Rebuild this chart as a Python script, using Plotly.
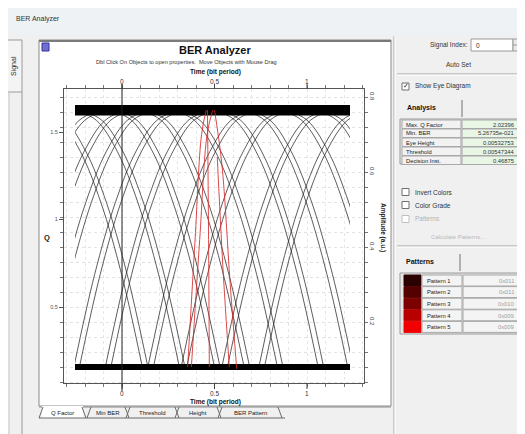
import plotly.graph_objects as go

OFF = 8                      # the page body margin
W, H = 525 - OFF, 434 - OFF  # figure size

# ---------------- data ----------------
time_ticks = [0, 0.5, 1]
time_tick_labels = ["0", "0.5", "1"]
amp_ticks = [0.2, 0.4, 0.6, 0.8]
amp_tick_labels = ["0.2", "0.4", "0.6", "0.8"]
q_ticks = [0.5, 1.0, 1.5]
q_tick_labels = ["0.5", "1", "1.5"]

level_low = 0.08
level_high = 0.765

band_t = [-0.27, 1.25]
top_band_levels = [0.754, 0.760, 0.765, 0.770, 0.775]
bottom_band_levels = [0.075, 0.080, 0.085]

# times at which a rising edge reaches the top level / a falling edge leaves it
rise_top_t = [-0.12, -0.09, 0.02, 0.05, 0.14, 0.17, 0.30, 0.33, 0.47, 0.50,
              0.70, 0.73, 0.88, 0.91, 1.10, 1.13, 1.30, 1.33]
fall_top_t = [-0.45, -0.42, -0.25, -0.22, -0.06, -0.03, 0.10, 0.13, 0.28, 0.31,
              0.50, 0.53, 0.66, 0.69, 0.86, 0.89, 1.05, 1.08]
edge_half_width = 0.56
half_profile_u = [0.0, 0.2, 0.4, 0.6, 0.8, 1.0]
half_profile_level = [1.0, 0.96, 0.84, 0.64, 0.36, 0.0]

# red curves around the decision instant
red1_t = [0.355, 0.395, 0.43, 0.455]
red1_a = [0.08, 0.42, 0.70, 0.765]
red2_t = [0.375, 0.42, 0.46, 0.49]
red2_a = [0.08, 0.42, 0.70, 0.765]
red3_t = [0.462, 0.468, 0.472]
red3_a = [0.765, 0.42, 0.08]
red4_t = [0.50, 0.54, 0.585, 0.62]
red4_a = [0.765, 0.62, 0.30, 0.075]
red5_t = [0.515, 0.545, 0.58]
red5_a = [0.64, 0.35, 0.08]

analysis_labels = ["Max. Q Factor", "Min. BER", "Eye Height", "Threshold", "Decision Inst."]
analysis_values = ["2.02396", "5.26735e-021", "0.00532753", "0.00547344", "0.46875"]
pattern_labels = ["Pattern 1", "Pattern 2", "Pattern 3", "Pattern 4", "Pattern 5"]
pattern_values = ["0x011", "0x011", "0x010", "0x009", "0x009"]
pattern_colors = ["#2a0000", "#520000", "#7c0000", "#b80000", "#f00000"]
bottom_tabs = ["Q Factor", "Min BER", "Threshold", "Height", "BER Pattern"]

# ---------------- geometry helpers (screen pixels) ----------------
T0_PX, PX_PER_BIT = 122, 185.0
A_REF_PX, A_REF, PX_PER_AMP = 97, 0.8, 375.0
FR_L, FR_R, FR_T, FR_B = 64, 364, 89, 383
DA_L, DA_R = 75, 350


def t_of(px):
    return (px - T0_PX) / PX_PER_BIT


def a_of(py):
    return A_REF - (py - A_REF_PX) / PX_PER_AMP


def fx(x):
    return (x - OFF) / W


def fy(y):
    return 1 - (y - OFF) / H


shapes = []
annotations = []


def rect(x0, y0, x1, y1, fill=None, line="#a0a0a0", lw=1, layer="above"):
    shapes.append(dict(type="rect", xref="paper", yref="paper",
                       x0=fx(x0), x1=fx(x1), y0=fy(y1), y1=fy(y0),
                       fillcolor=fill if fill else "rgba(0,0,0,0)",
                       line=dict(color=line, width=lw), layer=layer))


def line(x0, y0, x1, y1, color="#808080", lw=1, layer="above"):
    shapes.append(dict(type="line", xref="paper", yref="paper",
                       x0=fx(x0), x1=fx(x1), y0=fy(y0), y1=fy(y1),
                       line=dict(color=color, width=lw), layer=layer))


def hline(x0, x1, y, color="#a0a0a0", lw=1):
    line(x0, y, x1, y, color, lw)


def vline(x, y0, y1, color="#a0a0a0", lw=1):
    line(x, y0, x, y1, color, lw)


def text(x, y, s, size=7, color="#222", anchor="left", bold=False, angle=0,
         family="Liberation Sans"):
    annotations.append(dict(xref="paper", yref="paper", x=fx(x), y=fy(y),
                            text=("<b>%s</b>" % s) if bold else s,
                            showarrow=False, xanchor=anchor, yanchor="middle",
                            textangle=angle,
                            font=dict(size=size, color=color, family=family)))


fig = go.Figure()

# frame subplot (x / y) is drawn first; the eye traces live on x2 / y2
fig.add_trace(go.Scatter(x=[None], y=[None], xaxis="x", yaxis="y", showlegend=False))
fig.add_trace(go.Scatter(x=[None], y=[None], xaxis="x", yaxis="y3", showlegend=False))
fig.add_trace(go.Scatter(x=[None], y=[None], xaxis="x", yaxis="y4", showlegend=False))

# ---------------- eye diagram traces ----------------
span = level_high - level_low
edge_style = dict(color="rgba(30,30,30,0.72)", width=1, shape="spline")
for tt in rise_top_t:
    fig.add_trace(go.Scatter(
        x=[tt - u * edge_half_width for u in half_profile_u],
        y=[level_low + lv * span for lv in half_profile_level],
        mode="lines", line=edge_style,
        hoverinfo="skip", showlegend=False, xaxis="x2", yaxis="y2"))
for tt in fall_top_t:
    fig.add_trace(go.Scatter(
        x=[tt + u * edge_half_width for u in half_profile_u],
        y=[level_low + lv * span for lv in half_profile_level],
        mode="lines", line=edge_style,
        hoverinfo="skip", showlegend=False, xaxis="x2", yaxis="y2"))
for lv in top_band_levels:
    fig.add_trace(go.Scatter(x=band_t, y=[lv, lv], mode="lines",
                             line=dict(color="black", width=2.6),
                             hoverinfo="skip", showlegend=False, xaxis="x2", yaxis="y2"))
for lv in bottom_band_levels:
    fig.add_trace(go.Scatter(x=band_t, y=[lv, lv], mode="lines",
                             line=dict(color="black", width=2.4),
                             hoverinfo="skip", showlegend=False, xaxis="x2", yaxis="y2"))
for rt, ra in [(red1_t, red1_a), (red2_t, red2_a), (red3_t, red3_a),
               (red4_t, red4_a), (red5_t, red5_a)]:
    fig.add_trace(go.Scatter(x=rt, y=ra, mode="lines",
                             line=dict(color="rgba(215,40,40,0.85)", width=1, shape="spline"),
                             hoverinfo="skip", showlegend=False, xaxis="x2", yaxis="y2"))

# ---------------- window chrome ----------------
rect(8, 8, 525, 34, fill="#eef2f5", line="#eef2f5", lw=0, layer="below")
text(14, 19, "BER Analyzer", size=7, color="#333")
rect(520, 22, 526, 34, fill="#d03030", line="#d03030", lw=0)
# left side tab
rect(6, 40, 22, 92, fill="#f4f4f4", line="#9a9a9a", layer="below")
text(14, 66, "Signal", size=7, color="#333", anchor="center", angle=-90)
vline(22, 92, 434, color="#9a9a9a")
vline(9, 92, 434, color="#c8c8c8")

# plot panel
rect(39, 40, 391, 406, fill="#ffffff", line="#8a8a8a", layer="below")
hline(39, 391, 41, color="#7a7a7a", lw=2)
rect(42, 43, 49, 51, fill="#7070d0", line="#3030a0")
text(215, 50, "BER Analyzer", size=11, color="#111", anchor="center", bold=True)
text(186, 62, "Dbl Click On Objects to open properties.  Move Objects with Mouse Drag",
     size=5.6, color="#333", anchor="center")
text(215, 72, "Time (bit period)", size=6.5, color="#111", anchor="center", bold=True)
text(215, 402, "Time (bit period)", size=6.5, color="#111", anchor="center", bold=True)
for tv, tl in zip(time_ticks, time_tick_labels):
    px = T0_PX + tv * PX_PER_BIT
    text(px, 81, tl, size=6.5, color="#333", anchor="center")
    text(px, 393, tl, size=6.5, color="#333", anchor="center")
text(47, 237, "Q", size=7.5, color="#222", anchor="center", bold=True)
text(383, 227, "Amplitude (a.u.)", size=6.5, color="#222", anchor="center", bold=True, angle=90)

# bottom tabs
hline(39, 391, 407, color="#8a8a8a")
tab_x = [(42, 83), (90, 126), (129, 176), (178, 218), (221, 279)]
for i, ((x0, x1), lab) in enumerate(zip(tab_x, bottom_tabs)):
    if i == 0:
        rect(x0, 406, x1, 418, fill="#ffffff", line="#ffffff", lw=0)
    line(x0 - 3, 418, x0 + 1, 407, color="#6a6a6a")
    line(x1 - 1, 407, x1 + 3, 418, color="#6a6a6a")
    text((x0 + x1) / 2, 413, lab, size=6, color="#222", anchor="center")
hline(39, 285, 418, color="#6a6a6a")

# right panel
vline(394, 36, 434, color="#a8a8a8")
vline(395, 36, 434, color="#ffffff")
text(470, 45, "Signal Index:", size=6.5, color="#333", anchor="right")
rect(471, 39, 513, 51, fill="#ffffff", line="#9a9a9a")
text(474, 45, "0", size=6.5, color="#333")
rect(513, 39, 523, 51, fill="#e8e8e8", line="#9a9a9a")
hline(513, 523, 45, color="#9a9a9a")
text(458, 64, "Auto Set", size=6.5, color="#333", anchor="center")
hline(397, 525, 74, color="#a0a0a0")
hline(397, 525, 75, color="#ffffff")
rect(402, 83, 409, 90, fill="#ffffff", line="#707070")
text(405.5, 86.5, "✓", size=7, color="#222", anchor="center", family="DejaVu Sans")
text(413, 86.5, "Show Eye Diagram", size=6.5, color="#333")
text(405, 108, "Analysis", size=7, color="#111", bold=True)
vline(462, 100, 117, color="#707070")
rect(400, 119, 520, 164, fill="#e6e6e6", line="#9a9a9a")
row_h = 9.0
for i, (lab, val) in enumerate(zip(analysis_labels, analysis_values)):
    y0 = 120 + i * row_h
    rect(402, y0, 461, y0 + row_h - 0.5, fill="#f2f2f2", line="#a8a8a8")
    rect(462, y0, 518, y0 + row_h - 0.5, fill="#e9f6e6", line="#a8a8a8")
    text(404, y0 + row_h / 2, lab, size=5.8, color="#222")
    text(516, y0 + row_h / 2, val, size=5.8, color="#333", anchor="right")

for yy, lab, col in [(192, "Invert Colors", "#333"), (205, "Color Grade", "#333"),
                     (219, "Patterns", "#b0b0b0")]:
    rect(402, yy - 3.5, 409, yy + 3.5, fill="#ffffff",
         line="#707070" if col == "#333" else "#c0c0c0")
    text(413, yy, lab, size=6.5, color=col)
text(458, 237, "Calculate Patterns...", size=6, color="#b8b8b8", anchor="center")
hline(397, 525, 246, color="#a0a0a0")
hline(397, 525, 247, color="#ffffff")
text(404, 262, "Patterns", size=7, color="#111", bold=True)
vline(460, 254, 271, color="#707070")
rect(400, 273, 520, 334, fill="#e6e6e6", line="#9a9a9a")
prow = 11.6
for i, (lab, val, col) in enumerate(zip(pattern_labels, pattern_values, pattern_colors)):
    y0 = 275 + i * prow
    rect(404, y0, 421, y0 + prow - 0.6, fill=col, line=col)
    rect(422, y0, 462, y0 + prow - 0.6, fill="#f4f4f4", line="#a8a8a8")
    rect(463, y0, 518, y0 + prow - 0.6, fill="#f4f4f4", line="#a8a8a8")
    text(425, y0 + prow / 2, lab, size=5.8, color="#222")
    text(516, y0 + prow / 2, val, size=5.8, color="#a0a0a0", anchor="right")

# vertical t=0 line and major time ticks
shapes.append(dict(type="line", xref="x", yref="paper", x0=0, x1=0,
                   y0=fy(391), y1=fy(84), line=dict(color="#222", width=1), layer="above"))
for tv in time_ticks:
    shapes.append(dict(type="line", xref="x", yref="paper", x0=tv, x1=tv,
                       y0=fy(FR_T), y1=fy(84), line=dict(color="#444", width=1), layer="above"))
    shapes.append(dict(type="line", xref="x", yref="paper", x0=tv, x1=tv,
                       y0=fy(389), y1=fy(FR_B), line=dict(color="#444", width=1), layer="above"))

# ---------------- axes ----------------
data_dom_x = [fx(DA_L), fx(DA_R)]
frame_dom_x = [fx(FR_L), fx(FR_R)]
frame_dom_y = [fy(FR_B), fy(FR_T)]
amp_range = [a_of(FR_B), a_of(FR_T)]
q_range = [1.5 - (FR_B - 132) / 175.0, 1.5 - (FR_T - 132) / 175.0]

fig.update_layout(
    width=W, height=H, margin=dict(l=0, r=0, t=0, b=0),
    paper_bgcolor="#f0f0f0", plot_bgcolor="rgba(0,0,0,0)",
    showlegend=False, shapes=shapes, annotations=annotations,
    # frame
    xaxis=dict(domain=frame_dom_x, range=[t_of(FR_L), t_of(FR_R)], anchor="y",
               showline=True, mirror="allticks", linecolor="#555", linewidth=1,
               ticks="outside", ticklen=3, tickcolor="#777", dtick=0.1, tick0=0,
               showticklabels=False, showgrid=True, gridcolor="#e6e6e6",
               griddash="dot", zeroline=False),
    yaxis=dict(domain=frame_dom_y, range=amp_range, anchor="x", side="right",
               showline=True, mirror="allticks", linecolor="#555", linewidth=1,
               ticks="outside", ticklen=3, tickcolor="#777", dtick=0.04, tick0=0,
               showticklabels=False, showgrid=True, gridcolor="#e2e2e2",
               griddash="dot", zeroline=False),
    yaxis3=dict(domain=frame_dom_y, range=q_range, overlaying="y", anchor="x",
                side="left", tickvals=q_ticks, ticktext=q_tick_labels,
                ticks="outside", ticklen=4, tickcolor="#555",
                tickfont=dict(size=5.5, color="#555", family="Liberation Sans"),
                showgrid=False, zeroline=False, showline=False),
    yaxis4=dict(domain=frame_dom_y, range=amp_range, overlaying="y", anchor="x",
                side="right", tickvals=amp_ticks, ticktext=amp_tick_labels,
                tickangle=90, ticks="", ticklabelstandoff=4,
                tickfont=dict(size=6, color="#444", family="Liberation Sans"),
                showgrid=False, zeroline=False, showline=False),
    # eye traces (clipped to the data window)
    xaxis2=dict(domain=data_dom_x, range=[t_of(DA_L), t_of(DA_R)], visible=False,
                anchor="y2"),
    yaxis2=dict(domain=frame_dom_y, range=amp_range, visible=False, anchor="x2"),
)

fig.write_html("out.html")
